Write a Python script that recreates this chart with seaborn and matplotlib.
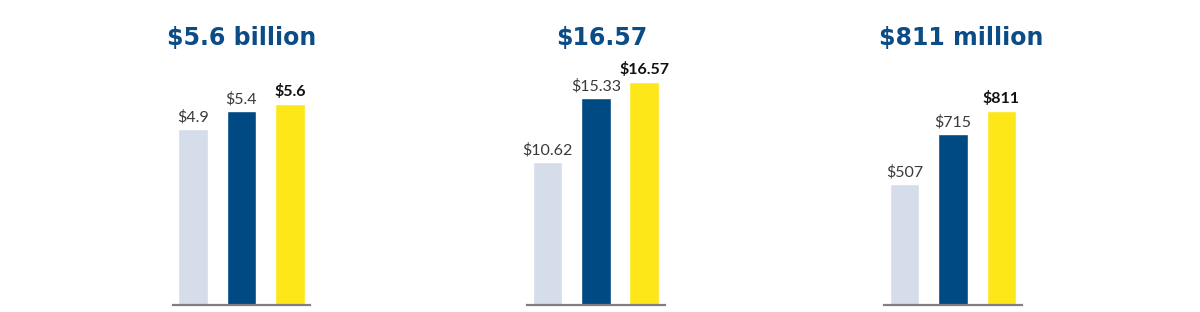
import matplotlib
matplotlib.use("Agg")
import matplotlib.pyplot as plt
import seaborn as sns
import pandas as pd

sns.set_theme(style="white")
plt.rcParams['font.family'] = ['Lato', 'DejaVu Sans']

# ---- data ----
periods = ["Year 1", "Year 2", "Year 3"]
titles = ["$5.6 billion", "$16.57", "$811 million"]
revenue = [4.9, 5.4, 5.6]
eps = [10.62, 15.33, 16.57]
income = [507, 715, 811]
value_labels = [
    ["$4.9", "$5.4", "$5.6"],
    ["$10.62", "$15.33", "$16.57"],
    ["$507", "$715", "$811"],
]
series = [revenue, eps, income]

# ---- style ----
bar_colors = ["#D5DDEA", "#004A84", "#FEE719"]
title_color = "#0B4C86"
axis_color = "#7F7F7F"

W, H = 1200, 312
fig = plt.figure(figsize=(W / 100, H / 100), dpi=100)
fig.patch.set_facecolor("white")

axes_left_px = [172.7, 527.0, 884.3]
axes_w_px = 137.5
baseline_px = 305
top_px = 60
ppu = [35.93, 13.48, 0.2395]  # pixels per data unit for each panel
title_cx = [242, 602, 961]
title_base = 44.7

for i in range(3):
    ax = fig.add_axes([axes_left_px[i] / W, (H - baseline_px) / H,
                       axes_w_px / W, (baseline_px - top_px) / H])
    df = pd.DataFrame({"period": periods, "value": series[i]})
    sns.barplot(data=df, x="period", y="value", hue="period",
                palette=bar_colors, legend=False, width=0.61,
                saturation=1, ax=ax)
    ax.set_xlim(-0.42, 2.42)
    ax.set_ylim(0, (baseline_px - top_px) / ppu[i])
    for s in ["top", "right", "left"]:
        ax.spines[s].set_visible(False)
    ax.spines["bottom"].set_color(axis_color)
    ax.spines["bottom"].set_linewidth(1.6)
    ax.set_xticks([])
    ax.set_yticks([])
    ax.set_xlabel("")
    ax.set_ylabel("")
    ax.patch.set_alpha(0)
    for j, v in enumerate(series[i]):
        bold = j == 2
        ax.annotate(value_labels[i][j], xy=(j, v), xytext=(0, 5.3),
                    textcoords="offset points", ha="center", va="baseline",
                    fontsize=11.5, fontweight="bold" if bold else "normal",
                    color="#111111" if bold else "#3a3a3a",
                    family=['Lato', 'DejaVu Sans'],
                    annotation_clip=False)
    fig.text(title_cx[i] / W, 1 - title_base / H, titles[i], ha="center",
             va="baseline", fontsize=17, fontweight="bold", color=title_color,
             family=['DejaVu Sans'])

fig.savefig("out.png", dpi=100, facecolor="white")
